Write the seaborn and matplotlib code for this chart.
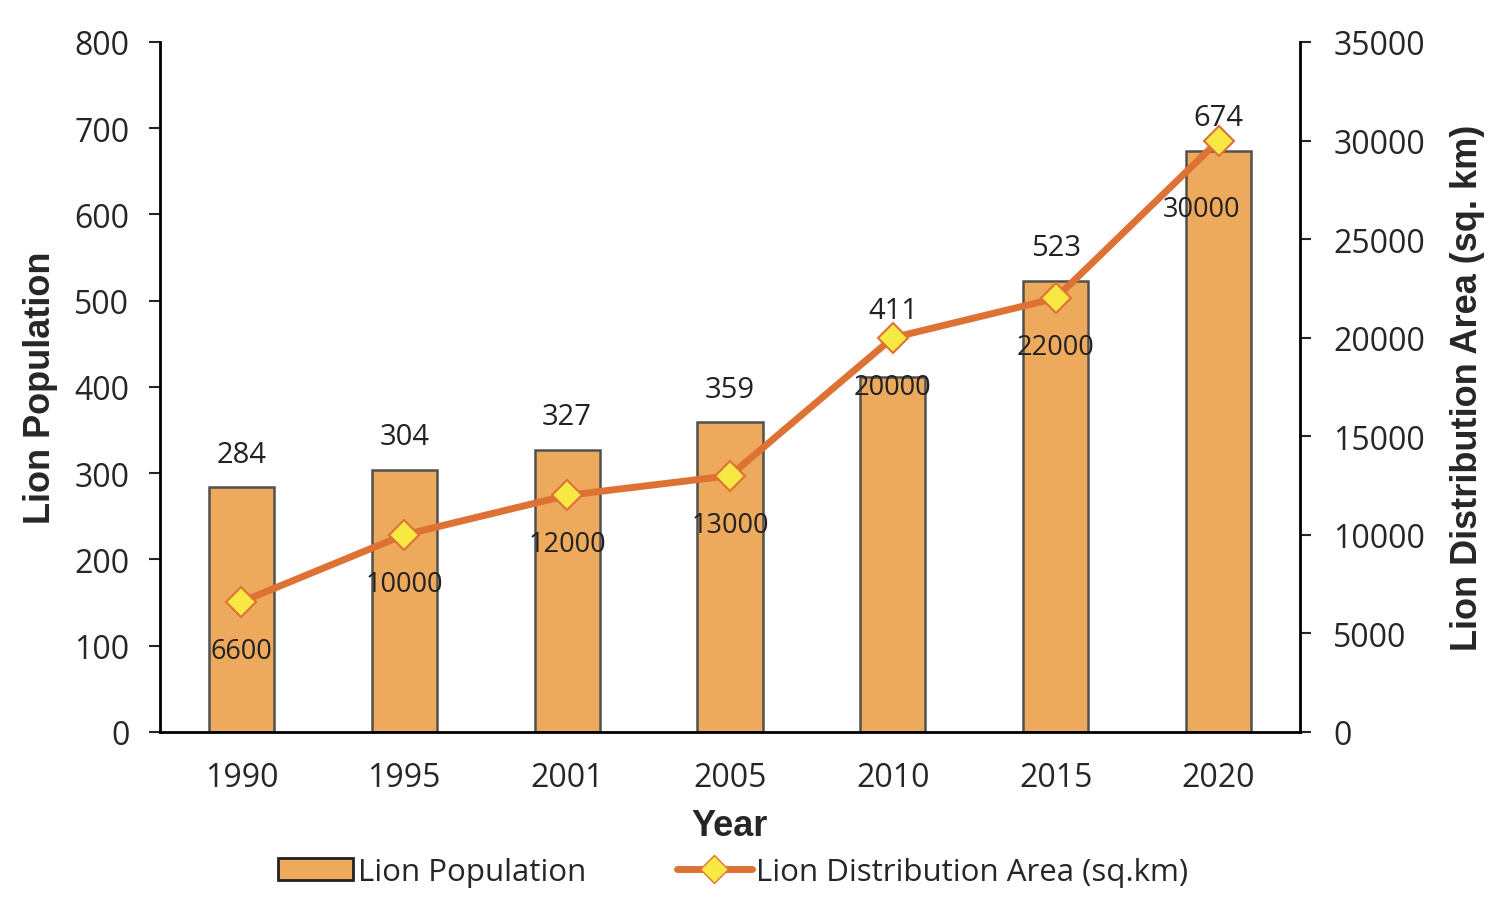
import numpy as np
import matplotlib
matplotlib.use("Agg")
import matplotlib.pyplot as plt
import seaborn as sns
from matplotlib.patches import Patch
from matplotlib.lines import Line2D

# Data
years = ["1990", "1995", "2001", "2005", "2010", "2015", "2020"]
population = [284, 304, 327, 359, 411, 523, 674]
area = [6600, 10000, 12000, 13000, 20000, 22000, 30000]

sns.set_style("white")
plt.rcParams['font.family'] = ['Open Sans', 'DejaVu Sans']

bar_color = "#EDA95C"
line_color = "#DE7235"
marker_face = "#F7E843"

fig = plt.figure(figsize=(15.12, 9.2), dpi=100)
ax = fig.add_axes([0.1058, 0.2033, 0.7540, 0.7500])

# --- bars: lion population ---
sns.barplot(x=years, y=population, ax=ax, color=bar_color, width=0.4,
            edgecolor="#505050", linewidth=1.8, saturation=1)
ax.set_ylim(0, 800)
ax.set_yticks(range(0, 801, 100))
ax.set_xlim(-0.5, len(years) - 0.5)

x_pos = np.arange(len(years))
for i, v in enumerate(population):
    dy = 67 if years[i] == "2010" else 33   # 2010 label lifted above the marker
    ax.annotate(str(v), (x_pos[i], v), xytext=(0, dy * 0.72),
                textcoords="offset points", ha="center", va="center",
                fontsize=21, color="#222222", zorder=5)

# --- line: distribution area ---
ax2 = ax.twinx()
sns.lineplot(x=x_pos, y=area, ax=ax2, color=line_color, linewidth=5,
             marker="D", markersize=15, markerfacecolor=marker_face,
             markeredgecolor=line_color, markeredgewidth=1.5)
ax2.set_ylim(0, 35000)
ax2.set_yticks(range(0, 35001, 5000))
ax2.set_xlim(-0.5, len(years) - 0.5)
for i, v in enumerate(area):
    dy = -49 if i < len(area) - 1 else -68
    dx = 0 if i < len(area) - 1 else -17
    ax2.annotate(str(v), (x_pos[i], v), xytext=(dx * 0.72, dy * 0.72),
                 textcoords="offset points", ha="center", va="center",
                 fontsize=19.5, color="#222222")

# --- axes styling ---
for a in (ax, ax2):
    a.spines["top"].set_visible(False)
    for s in ("left", "right", "bottom"):
        a.spines[s].set_color("black")
        a.spines[s].set_linewidth(2)
ax.spines["right"].set_visible(False)
ax2.spines["left"].set_visible(False)
ax2.spines["bottom"].set_visible(False)

ax.tick_params(axis="y", direction="out", length=8, width=1.5, labelsize=23, pad=14)
ax2.tick_params(axis="y", direction="out", length=8, width=1.5, labelsize=23, pad=16)
ax.set_xticks(x_pos)
ax.set_xticklabels(years)
ax.tick_params(axis="x", length=0, labelsize=23, pad=21)
ax.set_xticks(np.arange(-0.5, len(years), 1), minor=True)
ax.tick_params(axis="x", which="minor", direction="out", length=9, width=1.5)

lab_font = dict(family=["Liberation Sans", "DejaVu Sans"], fontweight="bold", fontsize=26)
ax.set_ylabel("Lion Population", labelpad=12, **lab_font)
ax2.set_ylabel("Lion Distribution Area (sq. km)", labelpad=18, **lab_font)
ax.set_xlabel("Year", labelpad=10, **lab_font)

# --- legend ---
handles = [
    Patch(facecolor=bar_color, edgecolor="#222222", linewidth=2),
    Line2D([0], [0], color=line_color, linewidth=5, marker="D", markersize=14,
           markerfacecolor=marker_face, markeredgecolor=line_color),
]
fig.legend(handles, ["Lion Population", "Lion Distribution Area (sq.km)"],
           loc="center", bbox_to_anchor=(0.485, 0.051), ncol=2, frameon=False,
           fontsize=22.5, handlelength=2.4, handletextpad=0.15, columnspacing=2.9)

fig.savefig("out.png", dpi=100)
